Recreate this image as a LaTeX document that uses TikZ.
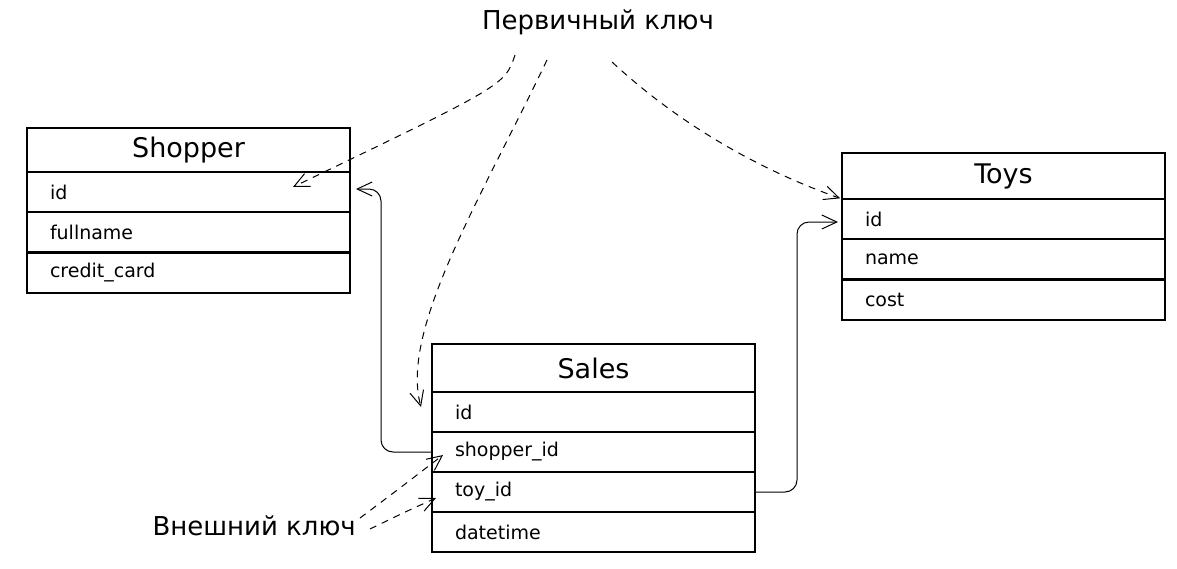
\documentclass[tikz,border=0pt]{standalone}
\usepackage{fontspec}
\setmainfont{DejaVu Sans}
\usetikzlibrary{positioning,arrows.meta}

\begin{document}
\begin{tikzpicture}[x=1pt,y=-1pt,
        tabletitle/.style={draw, line width=1.2pt, minimum width=323pt, minimum height=44pt,
            inner sep=0pt, outer sep=0pt, font=\fontsize{27}{30}\selectfont},
        field/.style={draw, line width=1.1pt, minimum width=323pt, minimum height=40pt,
            text width=277pt, inner xsep=23pt, inner ysep=0pt, outer sep=0pt, align=left,
            font=\fontsize{19}{22}\selectfont},
        keylabel/.style={inner sep=0pt, font=\fontsize{26}{30}\selectfont},
        link/.style={line width=1pt, rounded corners=12pt, -{Straight Barb[length=15pt,width=14pt]}},
        keylink/.style={line width=1pt, dash pattern=on 7pt off 6pt, -{Straight Barb[length=15pt,width=14pt]}}]

        % Canvas
        \useasboundingbox[fill=white] (0,0) rectangle (1177,568);

        % Shopper table
        \node[tabletitle, anchor=north west] (shopper) at (27,128) {Shopper};
        \node[field, below=0pt of shopper] (shopper-id) {id};
        \node[field, below=0pt of shopper-id] (shopper-name) {fullname};
        \node[field, below=1pt of shopper-name] (shopper-card) {credit\_card};

        % Toys table
        \node[tabletitle, anchor=north west, minimum height=46pt] (toys) at (842,153) {Toys};
        \node[field, below=0pt of toys] (toys-id) {id};
        \node[field, below=0pt of toys-id] (toys-name) {name};
        \node[field, below=1pt of toys-name] (toys-cost) {cost};

        % Sales table
        \node[tabletitle, anchor=north west, minimum height=48pt] (sales) at (432,344) {Sales};
        \node[field, below=0pt of sales] (sales-id) {id};
        \node[field, below=0pt of sales-id] (sales-shopper) {shopper\_id};
        \node[field, below=0pt of sales-shopper] (sales-toy) {toy\_id};
        \node[field, below=0pt of sales-toy] (sales-time) {datetime};

        % Key labels
        \node[keylabel] (pk) at (598,22) {Первичный ключ};
        \node[keylabel, anchor=east] (fk) at (356,526) {Внешний ключ};

        % Relations between the tables
        \draw[link, shorten >=6pt] (sales-shopper.west) -- ++(-51,0) |- ([yshift=3pt]shopper-id.east);
        \draw[link, shorten >=4pt] (sales-toy.east) -- ++(42,0) |- ([yshift=-3pt]toys-id.west);

        % Primary keys
        \coordinate (pk-a) at (515,55);
        \coordinate (pk-b) at (547,60);
        \coordinate (pk-c) at (612,62);
        \draw[keylink] (pk-a) .. controls (505,85) .. ([xshift=-57pt,yshift=5pt]shopper-id.east);
        \draw[keylink] (pk-b) .. controls (480,200) and (400,330) .. ([xshift=-11pt,yshift=5pt]sales-id.west);
        \draw[keylink, shorten >=2pt] (pk-c) .. controls (680,125) and (760,170) .. (toys.south west);

        % Foreign keys
        \draw[keylink] ([xshift=4pt,yshift=8pt]fk.east) .. controls (400,488) .. ([xshift=11pt,yshift=-3pt]sales-shopper.west);
        \draw[keylink] ([xshift=14pt,yshift=-3pt]fk.east) .. controls (405,512) .. ([xshift=4pt,yshift=-6pt]sales-toy.west);
    \end{tikzpicture}
\end{document}
